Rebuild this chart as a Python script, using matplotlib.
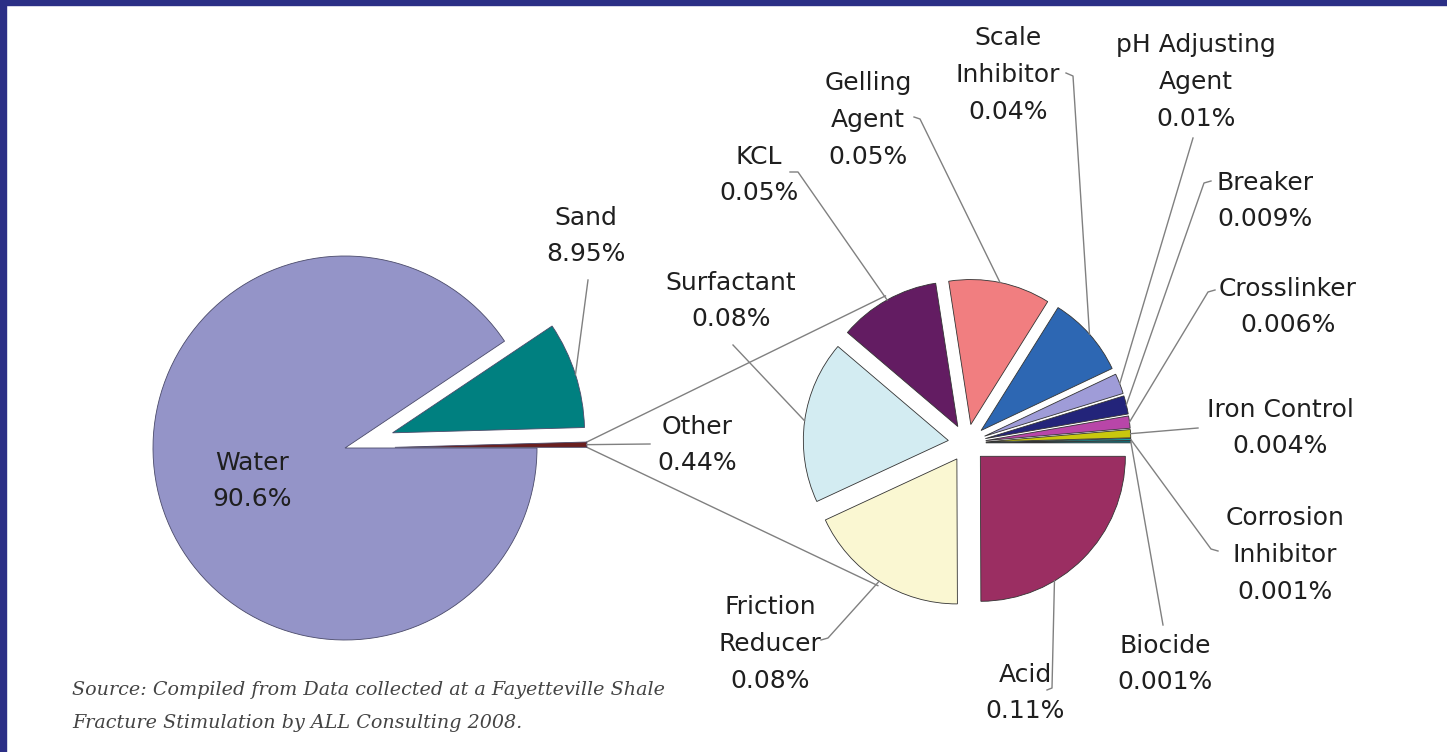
import matplotlib.pyplot as plt
import numpy as np
from matplotlib.patches import Rectangle

W, H = 1447, 752

# ---- data -------------------------------------------------------------
main_labels = ["Water", "Sand", "Other"]
main_values = [90.6, 8.95, 0.44]
main_pct = ["90.6%", "8.95%", "0.44%"]

other_labels = ["Acid", "Friction\nReducer", "Surfactant", "KCL", "Gelling\nAgent",
                "Scale\nInhibitor", "pH Adjusting\nAgent", "Breaker", "Crosslinker",
                "Iron Control", "Corrosion\nInhibitor", "Biocide"]
other_values = [0.11, 0.08, 0.08, 0.05, 0.05, 0.04, 0.01, 0.009, 0.006, 0.004, 0.001, 0.001]
other_pct = ["0.11%", "0.08%", "0.08%", "0.05%", "0.05%", "0.04%", "0.01%",
             "0.009%", "0.006%", "0.004%", "0.001%", "0.001%"]

source_lines = ["Source: Compiled from Data collected at a Fayetteville Shale",
                "Fracture Stimulation by ALL Consulting 2008."]

# ---- style / layout (pixel coords, y from top) --------------------------
main_colors = ["#9494c8", "#008080", "#6a1f1f"]
other_colors = ["#9b2e62", "#faf7d2", "#d3ecf2", "#631c62", "#f17e80", "#2d67b3",
                "#9f9cd8", "#23247a", "#b846a8", "#c9c80e", "#17a2a8", "#0a7c8a"]

main_center, main_r = (345, 448), 192
other_center, other_r = (967, 443), 145

main_text_pos = [(252, 481), (586, 236), (697, 445)]
main_lead = [None, [(588, 280)], [(650, 444)]]

other_text_pos = [(1025, 693), (770, 644), (731, 301), (759, 175), (868, 120), (1008, 75),
                  (1196, 82), (1265, 201), (1288, 307), (1280, 428), (1285, 555), (1165, 664)]
other_lead = [
    [(1047, 690), (1052, 688)],
    [(821, 640), (828, 638)],
    [(733, 345)],
    [(790, 172), (798, 172)],
    [(914, 117), (920, 119)],
    [(1066, 73), (1073, 76)],
    [(1193, 138)],
    [(1211, 181), (1204, 183)],
    [(1215, 290), (1208, 292)],
    [(1198, 428)],
    [(1218, 551), (1211, 549)],
    [(1163, 625)],
]
other_lead_frac = [0.34] + [0.5] * 11

navy = "#2b2f86"
text_color = "#1f1f1f"
lead_color = "#808080"


def py(y):
    return H - y


def arc_point(w, frac=0.5):
    ang = np.deg2rad(w.theta1 + frac * (w.theta2 - w.theta1))
    cx, cy = w.center
    return cx + w.r * np.cos(ang), cy + w.r * np.sin(ang)


fig = plt.figure(figsize=(W / 100, H / 100), dpi=100)
fig.patch.set_facecolor("white")
ax = fig.add_axes([0, 0, 1, 1])

# left pie
wedges_main, _ = ax.pie(
    main_values,
    colors=main_colors,
    startangle=0,
    counterclock=False,
    radius=main_r,
    center=(main_center[0], py(main_center[1])),
    explode=[0, 0.26 * main_r, 0.26 * main_r],
    wedgeprops=dict(edgecolor="#4a4a6a", linewidth=0.6),
)

# right pie (breakdown of Other)
wedges_other, _ = ax.pie(
    other_values,
    colors=other_colors,
    startangle=0,
    counterclock=False,
    radius=other_r,
    center=(other_center[0], py(other_center[1])),
    explode=[0.13 * other_r] * len(other_values),
    wedgeprops=dict(edgecolor="#333333", linewidth=0.6),
)

# connector lines from "Other" to the breakdown pie
w_other = wedges_main[2]
ocx, ocy = other_center[0], py(other_center[1])
for frac, ang in [(1.0, 119), (0.0, -122)]:
    sx, sy = arc_point(w_other, frac)
    ex = ocx + 1.16 * other_r * np.cos(np.deg2rad(ang))
    ey = ocy + 1.16 * other_r * np.sin(np.deg2rad(ang))
    ax.plot([sx, ex], [sy, ey], color=lead_color, lw=1.0, zorder=0.5)

# labels
font = dict(family="DejaVu Sans", fontsize=18, color=text_color, linespacing=1.68)
for lab, pct, pos, lead, w in zip(main_labels, main_pct, main_text_pos, main_lead, wedges_main):
    ax.text(pos[0], py(pos[1]), f"{lab}\n{pct}", ha="center", va="center", **font)
    if lead:
        tx, ty = arc_point(w)
        xs = [p[0] for p in lead] + [tx]
        ys = [py(p[1]) for p in lead] + [ty]
        ax.plot(xs, ys, color=lead_color, lw=1.0, zorder=3)

for lab, pct, pos, lead, frac, w in zip(other_labels, other_pct, other_text_pos,
                                        other_lead, other_lead_frac, wedges_other):
    ax.text(pos[0], py(pos[1]), f"{lab}\n{pct}", ha="center", va="center", **font)
    tx, ty = arc_point(w, frac)
    xs = [p[0] for p in lead] + [tx]
    ys = [py(p[1]) for p in lead] + [ty]
    ax.plot(xs, ys, color=lead_color, lw=1.0, zorder=3)

# source note
for i, line in enumerate(source_lines):
    ax.text(72, py(690 + 33 * i), line, ha="left", va="center", family="DejaVu Serif",
            fontstyle="italic", fontsize=13.8, color="#444444")

ax.set_xlim(0, W)
ax.set_ylim(0, H)
ax.set_aspect("equal")
ax.axis("off")

# navy frame on the left and top
fig.add_artist(Rectangle((0, 0), 6 / W, 1, transform=fig.transFigure, color=navy, zorder=10))
fig.add_artist(Rectangle((0, 1 - 5 / H), 1, 5 / H, transform=fig.transFigure, color=navy, zorder=10))

fig.savefig("out.png", dpi=100, facecolor="white")
